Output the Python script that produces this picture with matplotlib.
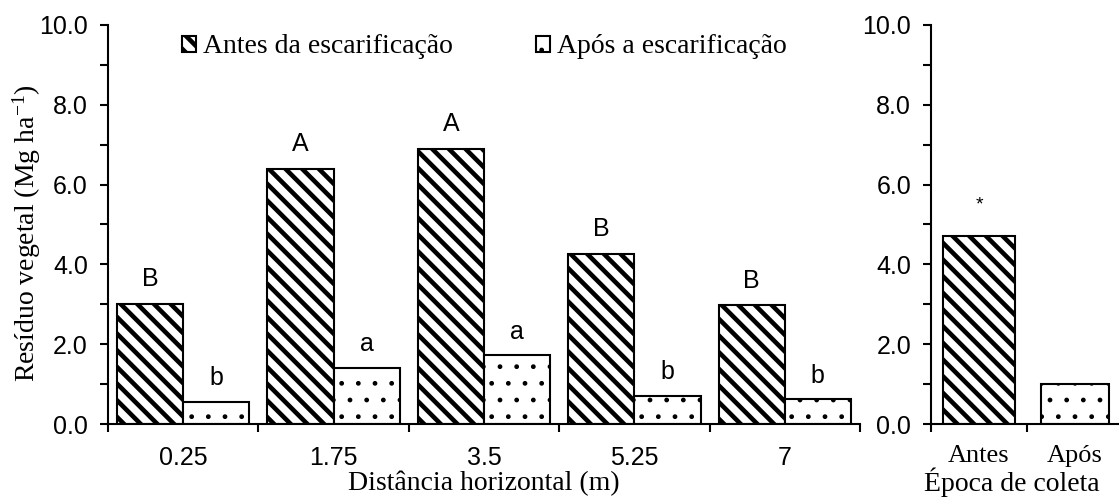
import numpy as np
import matplotlib.pyplot as plt
from matplotlib.ticker import MultipleLocator, FormatStrFormatter

plt.rcParams['hatch.color'] = 'black'
plt.rcParams['mathtext.default'] = 'regular'

serif = ['Liberation Serif', 'DejaVu Serif']
sans = ['Liberation Sans', 'DejaVu Sans']

# residue by horizontal distance
distancias = ['0.25', '1.75', '3.5', '5.25', '7']
antes = [3.02, 6.4, 6.9, 4.27, 2.97]
apos = [0.55, 1.4, 1.72, 0.7, 0.62]
letras_antes = ['B', 'A', 'A', 'B', 'B']
letras_apos = ['b', 'a', 'a', 'b', 'b']

# residue by sampling time
epocas = ['Antes', 'Após']
media_epoca = [4.72, 1.0]

STRIPE_LW = 3.3
DOT_LW = 1.0
TICK_LEN = 5.8


def hatched_bar(ax, x, h, w, hatch, hlw, **kw):
    with plt.rc_context({'hatch.linewidth': hlw}):
        bars = ax.bar(x, h, w, color='white', edgecolor='black', linewidth=1.5,
                      hatch=hatch, **kw)
    for p in bars:
        if hasattr(p, 'set_hatch_linewidth'):
            p.set_hatch_linewidth(hlw)
    return bars


fig = plt.figure(figsize=(11.19, 4.98), dpi=100)
ax = fig.add_axes([108 / 1119, 74 / 498, 752 / 1119, 399 / 498])
ax2 = fig.add_axes([931 / 1119, 74 / 498, 192 / 1119, 399 / 498])

x = np.arange(len(distancias))
w = 0.44
b1 = hatched_bar(ax, x - w / 2, antes, w, '\\\\', STRIPE_LW, label='Antes da escarificação')
b2 = hatched_bar(ax, x + w / 2, apos, w, '.', DOT_LW, label='Após a escarificação')

for i in range(len(x)):
    ax.text(x[i] - w / 2, antes[i] + 0.45, letras_antes[i], ha='center', va='baseline',
            fontsize=18, family=sans)
    ax.text(x[i] + w / 2, apos[i] + 0.42, letras_apos[i], ha='center', va='baseline',
            fontsize=18, family=sans)

ax.set_xlim(-0.5, len(x) - 0.5)
ax.set_xticks(x)
ax.set_xticklabels(distancias, family=sans, fontsize=18)
ax.set_xticks(np.arange(len(x) + 1) - 0.5, minor=True)
ax.tick_params(axis='x', which='major', length=0, pad=16)
ax.tick_params(axis='x', which='minor', length=TICK_LEN, width=1.5, direction='out')
ax.set_xlabel('Distância horizontal (m)', family=serif, fontsize=20, va='baseline')
ax.xaxis.set_label_coords(0.5, -0.165)

x2 = np.arange(len(epocas))
hatched_bar(ax2, x2[0], media_epoca[0], 0.74, '\\\\', STRIPE_LW)
hatched_bar(ax2, x2[1], media_epoca[1], 0.70, '.', DOT_LW)
ax2.text(x2[0], media_epoca[0] + 0.78, '*', ha='center', va='center', fontsize=14,
         family=sans)
ax2.set_xlim(-0.5, 1.5)
ax2.set_xticks(x2)
ax2.set_xticklabels(epocas, family=serif, fontsize=19)
ax2.set_xticks([-0.5, 0.5, 1.5], minor=True)
ax2.tick_params(axis='x', which='major', length=0, pad=15)
ax2.tick_params(axis='x', which='minor', length=TICK_LEN, width=1.5, direction='out')
ax2.set_xlabel('Época de coleta', family=serif, fontsize=20, va='baseline')
ax2.xaxis.set_label_coords(0.42, -0.168)

for a in (ax, ax2):
    a.set_ylim(0, 10)
    a.yaxis.set_major_locator(MultipleLocator(2))
    a.yaxis.set_minor_locator(MultipleLocator(1))
    a.yaxis.set_major_formatter(FormatStrFormatter('%.1f'))
    a.tick_params(axis='y', which='both', length=TICK_LEN, width=1.5, direction='out',
                  pad=8.6)
    for lab in a.get_yticklabels():
        lab.set_family(sans)
        lab.set_fontsize(18)
    a.spines['top'].set_visible(False)
    a.spines['right'].set_visible(False)
    a.spines['left'].set_linewidth(1.5)
    a.spines['bottom'].set_linewidth(1.5)

ax.set_ylabel('Resíduo vegetal (Mg ha$^{-1}$)', family=serif, fontsize=20, va='center')
ax.yaxis.set_label_coords(-0.108, 0.477)

leg = ax.legend(handles=[b1, b2], loc='center', bbox_to_anchor=(0.5, 0.945), ncol=2,
                frameon=False, prop={'family': serif, 'size': 20}, handlelength=0.5,
                handleheight=0.5, handletextpad=0.25, columnspacing=3.0)
for h, lw in zip(leg.legend_handles, (STRIPE_LW, DOT_LW)):
    if hasattr(h, 'set_hatch_linewidth'):
        h.set_hatch_linewidth(lw)

fig.savefig('out.png', dpi=100)
